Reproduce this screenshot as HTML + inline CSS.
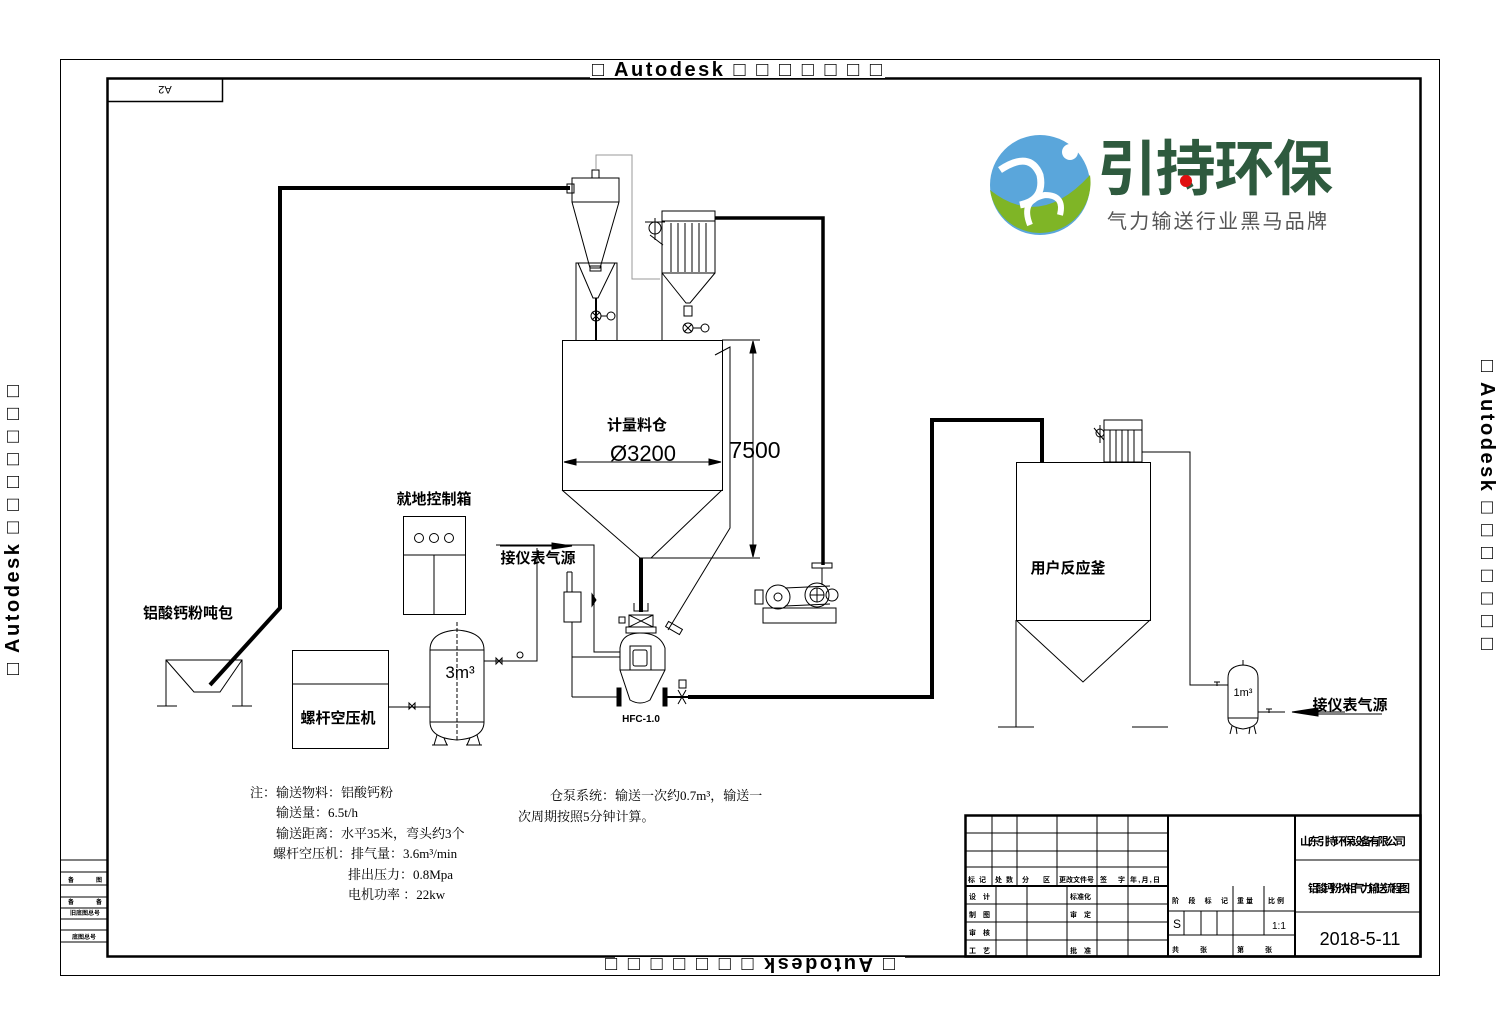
<!DOCTYPE html>
<html><head><meta charset="utf-8"><style>
html,body{margin:0;padding:0;background:#fff;}
svg{display:block;}
text{font-family:"Liberation Sans","Noto Sans CJK SC",sans-serif;fill:#000;}
.s{font-family:"Liberation Serif","Noto Serif CJK SC","Noto Sans CJK SC",serif;}
</style></head><body>
<svg width="1500" height="1036" viewBox="0 0 1500 1036" xmlns="http://www.w3.org/2000/svg" fill="none" stroke="#000" stroke-width="1">
<!-- frames -->
<rect x="60.5" y="59.5" width="1379" height="916" stroke-width="1"/>
<rect x="107.5" y="78.5" width="1313" height="878" stroke-width="2.5"/>
<rect x="107.5" y="78.5" width="115" height="23" stroke-width="1.5"/>
<text x="165" y="90" font-size="11" stroke="none" text-anchor="middle" transform="rotate(180 165 90)" dy="4">A2</text>
<rect x="590" y="60" width="295" height="18" fill="#fff" stroke="none"/>
<text x="737" y="76" font-size="20" font-weight="bold" stroke="none" text-anchor="middle" textLength="290">□ Autodesk □ □ □ □ □ □ □</text>
<rect x="615" y="957" width="290" height="18" fill="#fff" stroke="none"/>
<g transform="rotate(180 750 965)"><text x="750" y="972" font-size="20" font-weight="bold" stroke="none" text-anchor="middle" textLength="290">□ Autodesk □ □ □ □ □ □ □</text></g>
<g transform="rotate(-90 12 530)"><text x="12" y="537" font-size="20" font-weight="bold" stroke="none" text-anchor="middle" textLength="290">□ Autodesk □ □ □ □ □ □ □</text></g>
<g transform="rotate(90 1488 505)"><text x="1488" y="512" font-size="20" font-weight="bold" stroke="none" text-anchor="middle" textLength="290">□ Autodesk □ □ □ □ □ □ □</text></g>

<!-- left small table -->
<g stroke-width="1">
<line x1="60" y1="860" x2="107" y2="860"/><line x1="60" y1="872" x2="107" y2="872"/>
<line x1="60" y1="885" x2="107" y2="885"/><line x1="60" y1="897" x2="107" y2="897"/>
<line x1="60" y1="908" x2="107" y2="908"/><line x1="60" y1="919" x2="107" y2="919"/>
<line x1="60" y1="930" x2="107" y2="930"/><line x1="60" y1="942" x2="107" y2="942"/>
</g>
<g stroke="none" font-size="6" font-weight="bold"><text x="68" y="882">备 </text><text x="96" y="882">图</text><text x="68" y="904">备</text><text x="96" y="904">备</text><text x="70" y="915">旧底图总号</text><text x="72" y="939">底图总号</text></g>

<!-- logo -->
<circle cx="1040" cy="185" r="50" fill="#5aa6db" stroke="none"/>
<path d="M990 190 Q1040 230 1090 175 A50 50 0 0 1 990 190Z" fill="#7fb526" stroke="none"/>
<path d="M1000 170 Q1030 150 1040 175 Q1045 200 1020 205" stroke="#fff" stroke-width="7"/>
<path d="M1030 225 Q1020 200 1045 195 Q1065 195 1060 215" stroke="#fff" stroke-width="6"/>
<circle cx="1070" cy="152" r="8" fill="#fff" stroke="none"/>
<text x="1215" y="190" font-size="60" font-weight="bold" stroke="none" text-anchor="middle" style="fill:#2e5a3e" textLength="236">引持环保</text>
<circle cx="1186" cy="181" r="6" fill="#e01010" stroke="none"/>
<text x="1217" y="228" font-size="20" stroke="none" text-anchor="middle" style="fill:#555" textLength="220">气力输送行业黑马品牌</text>

<!-- main thick pipes -->
<polyline points="570,188 280,188 280,608 210,685" stroke-width="4"/>
<polyline points="715,218 823,218 823,565" stroke-width="3.5"/>
<polyline points="688,697 932,697 932,420 1042,420 1042,462" stroke-width="4"/>
<line x1="641" y1="558" x2="641" y2="612" stroke-width="4"/>

<!-- cyclone -->
<rect x="567" y="184" width="7" height="9"/>
<polyline points="572,197 572,178 619,178 619,202"/>
<polyline points="572,197 572,202 590,268 600,268 619,202"/>
<line x1="572" y1="202" x2="619" y2="202"/>
<rect x="592" y="170" width="7" height="8"/>
<polyline points="596,170 596,155 632,155 632,279 660,279" stroke="#999"/>
<rect x="590" y="266" width="11" height="5"/>
<!-- hopper box -->
<polyline points="576,340 576,263 617,263 617,340"/>
<polyline points="578,263 593,298 598,298 615,263"/>
<line x1="596" y1="298" x2="596" y2="340" stroke-width="2"/>
<circle cx="596" cy="316" r="5"/><path d="M592 312 L600 320 M600 312 L592 320"/>
<circle cx="611" cy="316" r="4"/><line x1="601" y1="316" x2="607" y2="316"/>
<!-- dust collector -->
<rect x="662" y="211" width="53" height="10"/>
<rect x="662" y="221" width="53" height="52"/>
<g><line x1="671" y1="223" x2="671" y2="272"/><line x1="678" y1="223" x2="678" y2="272"/><line x1="685" y1="223" x2="685" y2="272"/><line x1="692" y1="223" x2="692" y2="272"/><line x1="699" y1="223" x2="699" y2="272"/><line x1="706" y1="223" x2="706" y2="272"/></g>
<polyline points="662,273 686,303 690,303 715,273"/>
<polyline points="662,273 662,340 M715,273 715,340"/>
<rect x="684" y="306" width="8" height="10"/>
<circle cx="688" cy="328" r="5"/><path d="M684 324 L692 332 M692 324 L684 332"/>
<circle cx="705" cy="328" r="4"/><line x1="693" y1="328" x2="701" y2="328"/>
<circle cx="655" cy="228" r="6"/><path d="M645 222 L665 222 M650 235 L663 245 M655 218 L655 240"/>

<!-- bin -->
<rect x="562.5" y="340.5" width="160" height="150"/>
<polyline points="562,490 640,558 651,558 722,490"/>
<polyline points="715,355 730,347 730,528 668,630"/>
<line x1="722" y1="340" x2="760" y2="340"/><line x1="651" y1="558" x2="760" y2="558"/>
<line x1="753" y1="343" x2="753" y2="555"/>
<path d="M753 341 l-3 12 h6z M753 557 l-3 -12 h6z" fill="#000"/>
<line x1="565" y1="462" x2="720" y2="462"/>
<path d="M564 462 l12 -3 v6z M721 462 l-12 -3 v6z" fill="#000"/>
<text x="637" y="430" font-size="15" font-weight="bold" stroke="none" text-anchor="middle">计量料仓</text>
<text x="643" y="461" font-size="22" stroke="none" text-anchor="middle" font-weight="300">Ø3200</text>
<text x="755" y="458" font-size="23" stroke="none" text-anchor="middle">7500</text>

<!-- pump HFC -->
<path d="M634 603 v8 h14 v-8 M640 603 v8"/>
<rect x="629" y="615" width="24" height="12"/><path d="M629 615 L653 627 M653 615 L629 627"/>
<rect x="619" y="617" width="6" height="6"/>
<rect x="626" y="627" width="30" height="6"/>
<path d="M620 648 Q622 633 640 633 Q660 633 665 648 V670 L650 700 Q640 706 630 700 L620 670Z"/>
<rect x="633" y="650" width="14" height="16" rx="2"/><rect x="630" y="646" width="21" height="24"/>
<line x1="620" y1="670" x2="665" y2="670"/>
<rect x="617" y="688" width="4" height="18" fill="#000"/><rect x="663" y="688" width="4" height="18" fill="#000"/>
<line x1="572" y1="697" x2="617" y2="697"/><line x1="667" y1="697" x2="688" y2="697" stroke-width="2"/>
<path d="M678 690 L686 704 M686 690 L678 704" /><rect x="679" y="680" width="7" height="8"/>
<rect x="666" y="625" width="16" height="6" transform="rotate(30 674 628)"/>
<text x="641" y="722" font-size="10" font-weight="bold" stroke="none" text-anchor="middle">HFC-1.0</text>

<!-- instrument air line -->
<polyline points="496,545 594,545 594,652 620,652"/>
<polyline points="572,697 572,657 620,657"/>
<rect x="564" y="592" width="17" height="30"/><line x1="572" y1="592" x2="572" y2="572" /><line x1="572" y1="572" x2="567" y2="572"/>
<line x1="567" y1="572" x2="567" y2="592"/>
<line x1="572" y1="622" x2="572" y2="657"/>
<path d="M592 594 l4 6 l-4 6z" fill="#000"/>
<line x1="500" y1="546" x2="570" y2="546"/>
<path d="M552 543 L572 546 L552 549Z" fill="#000"/>
<text x="538" y="563" font-size="15" font-weight="bold" stroke="none" text-anchor="middle">接仪表气源</text>
<polyline points="537,548 537,661 484,661"/>
<circle cx="520" cy="655" r="3"/>
<path d="M496 658 l6 6 v-6 l-6 6z"/>

<!-- control box -->
<rect x="403.5" y="516.5" width="62" height="98"/>
<line x1="403" y1="555" x2="466" y2="555"/><line x1="434" y1="555" x2="434" y2="614"/>
<circle cx="419" cy="538" r="4.5"/><circle cx="434" cy="538" r="4.5"/><circle cx="449" cy="538" r="4.5"/>
<text x="434" y="504" font-size="15" font-weight="bold" stroke="none" text-anchor="middle">就地控制箱</text>

<!-- compressor -->
<rect x="292.5" y="650.5" width="96" height="98"/>
<line x1="292" y1="684" x2="388" y2="684"/>
<text x="338" y="723" font-size="15" font-weight="bold" stroke="none" text-anchor="middle">螺杆空压机</text>
<line x1="388" y1="707" x2="430" y2="707"/><path d="M409 703 l6 6 v-6 l-6 6z"/>
<!-- tank 3m3 -->
<path d="M430 650 Q430 632 457 630 Q484 632 484 650 V722 Q484 738 457 740 Q430 738 430 722Z"/>
<line x1="430" y1="650" x2="484" y2="650"/><line x1="430" y1="722" x2="484" y2="722"/>
<line x1="457" y1="622" x2="457" y2="742" stroke-dasharray="4,2"/>
<path d="M437 735 l-3 10 M444 738 l3 7 M470 738 l-3 7 M477 735 l3 10 M432 745 h16 M466 745 h16"/>
<text x="460" y="678" font-size="17" stroke="none" text-anchor="middle">3m³</text>

<!-- ton bag hopper -->
<polyline points="166,706 166,660 242,660 242,706"/>
<polyline points="166,660 194,692 220,692 242,660"/>
<line x1="157" y1="706" x2="177" y2="706"/><line x1="232" y1="706" x2="252" y2="706"/>
<text x="188" y="618" font-size="15" font-weight="bold" stroke="none" text-anchor="middle">铝酸钙粉吨包</text>

<!-- blower -->
<rect x="763" y="608" width="73" height="15"/>
<rect x="812" y="563" width="20" height="5"/><line x1="822" y1="568" x2="822" y2="585"/>
<rect x="755" y="590" width="8" height="14"/>
<circle cx="778" cy="597" r="12"/><circle cx="778" cy="597" r="4"/>
<circle cx="817" cy="595" r="12"/><circle cx="817" cy="595" r="7"/><path d="M810 595 h14 M817 588 v14"/>
<path d="M785 588 L830 586 M785 606 L830 604"/><circle cx="832" cy="595" r="6"/>

<!-- reactor -->
<rect x="1016.5" y="462.5" width="134" height="158"/>
<polyline points="1016,620 1016,727 M1150,620 1150,727"/>
<polyline points="1016,620 1083,682 1150,620"/>
<line x1="998" y1="727" x2="1034" y2="727"/><line x1="1132" y1="727" x2="1168" y2="727"/>
<text x="1068" y="573" font-size="15" font-weight="bold" stroke="none" text-anchor="middle">用户反应釜</text>
<rect x="1104" y="420" width="38" height="10"/><rect x="1104" y="430" width="38" height="32"/>
<g><line x1="1110" y1="430" x2="1110" y2="462"/><line x1="1116" y1="430" x2="1116" y2="462"/><line x1="1122" y1="430" x2="1122" y2="462"/><line x1="1128" y1="430" x2="1128" y2="462"/><line x1="1134" y1="430" x2="1134" y2="462"/></g>
<circle cx="1100" cy="433" r="4"/><path d="M1094 428 L1104 440 M1100 425 v18"/>
<polyline points="1142,452 1190,452 1190,685 1228,685"/>
<path d="M1214 682 h6 M1217 682 v4"/>
<path d="M1228 678 Q1228 666 1243 665 Q1258 666 1258 678 V718 Q1258 727 1243 729 Q1228 727 1228 718Z"/>
<line x1="1228" y1="718" x2="1258" y2="718"/><line x1="1243" y1="665" x2="1243" y2="660"/>
<path d="M1232 726 l-2 8 M1254 726 l2 8 M1236 727 l1 7 M1250 727 l-1 7"/>
<text x="1243" y="696" font-size="11" stroke="none" text-anchor="middle">1m³</text>
<line x1="1258" y1="712" x2="1285" y2="712"/><path d="M1266 709 h6 M1269 709 v4"/>
<path d="M1292 712 L1318 708 L1318 716Z" fill="#000"/><line x1="1318" y1="712" x2="1345" y2="712"/>
<text x="1350" y="710" font-size="15" font-weight="bold" stroke="none" text-anchor="middle">接仪表气源</text>
<line x1="1318" y1="714" x2="1382" y2="714"/>

<!-- notes -->
<g class="s" stroke="none" font-size="13">
<text x="250" y="797" class="s">注：输送物料：铝酸钙粉</text>
<text x="276" y="817" class="s">输送量：6.5t/h</text>
<text x="276" y="838" class="s">输送距离：水平35米，弯头约3个</text>
<text x="273" y="858" class="s">螺杆空压机：排气量：3.6m³/min</text>
<text x="348" y="879" class="s">排出压力：0.8Mpa</text>
<text x="348" y="899" class="s">电机功率 ：22kw</text>
<text x="550" y="800" class="s">仓泵系统：输送一次约0.7m³，输送一</text>
<text x="518" y="821" class="s">次周期按照5分钟计算。</text>
</g>

<!-- title block -->
<g stroke-width="1">
<rect x="965.5" y="815.5" width="455" height="141" stroke-width="2.5"/>
<line x1="965" y1="833" x2="1168" y2="833"/><line x1="965" y1="851" x2="1168" y2="851"/>
<line x1="965" y1="867" x2="1168" y2="867"/><line x1="965" y1="886" x2="1168" y2="886" stroke-width="2"/>
<line x1="965" y1="904" x2="1168" y2="904"/><line x1="965" y1="922" x2="1168" y2="922"/><line x1="965" y1="940" x2="1168" y2="940"/>
<line x1="992" y1="815" x2="992" y2="886"/><line x1="1017" y1="815" x2="1017" y2="886"/><line x1="1057" y1="815" x2="1057" y2="886"/><line x1="1097" y1="815" x2="1097" y2="956"/><line x1="1128" y1="815" x2="1128" y2="956"/>
<line x1="996" y1="886" x2="996" y2="956"/><line x1="1027" y1="886" x2="1027" y2="956"/><line x1="1067" y1="886" x2="1067" y2="956"/>
<line x1="1168" y1="815" x2="1168" y2="956" stroke-width="2"/>
<line x1="1168" y1="911" x2="1295" y2="911"/><line x1="1168" y1="935" x2="1295" y2="935"/>
<line x1="1233" y1="886" x2="1233" y2="956"/><line x1="1264" y1="886" x2="1264" y2="935"/>
<line x1="1184" y1="911" x2="1184" y2="935"/><line x1="1201" y1="911" x2="1201" y2="935"/><line x1="1217" y1="911" x2="1217" y2="935"/>
<line x1="1295" y1="815" x2="1295" y2="956" stroke-width="2"/>
<line x1="1295" y1="860" x2="1420" y2="860"/><line x1="1295" y1="912" x2="1420" y2="912"/>
</g>
<g stroke="none" font-size="7" font-weight="bold">
<text x="968" y="882" textLength="18">标记</text><text x="995" y="882" textLength="18">处数</text><text x="1022" y="882" textLength="28">分　区</text><text x="1059" y="882" textLength="35">更改文件号</text><text x="1100" y="882" textLength="25">签　字</text><text x="1130" y="882" textLength="30">年,月,日</text>
<text x="969" y="899">设　计</text><text x="969" y="917">制　图</text><text x="969" y="935">审　核</text><text x="969" y="953">工　艺</text>
<text x="1070" y="899">标准化</text><text x="1070" y="917">审　定</text><text x="1070" y="953">批　准</text>
<text x="1172" y="903" textLength="56">阶 段 标 记</text><text x="1237" y="903">重 量</text><text x="1268" y="903">比 例</text>
<text x="1172" y="952">共　　　张</text><text x="1237" y="952">第　　　张</text>
<text x="1300" y="845" font-size="11" textLength="106">山东引持环保设备有限公司</text>
<text x="1308" y="892" font-size="11" textLength="102">铝酸钙粉浓相气力输送流程图</text>
</g>
<text x="1173" y="928" font-size="12" stroke="none">S</text>
<text x="1272" y="929" font-size="10" stroke="none">1:1</text>
<text x="1360" y="945" font-size="18" stroke="none" text-anchor="middle">2018-5-11</text>
</svg>
</body></html>
